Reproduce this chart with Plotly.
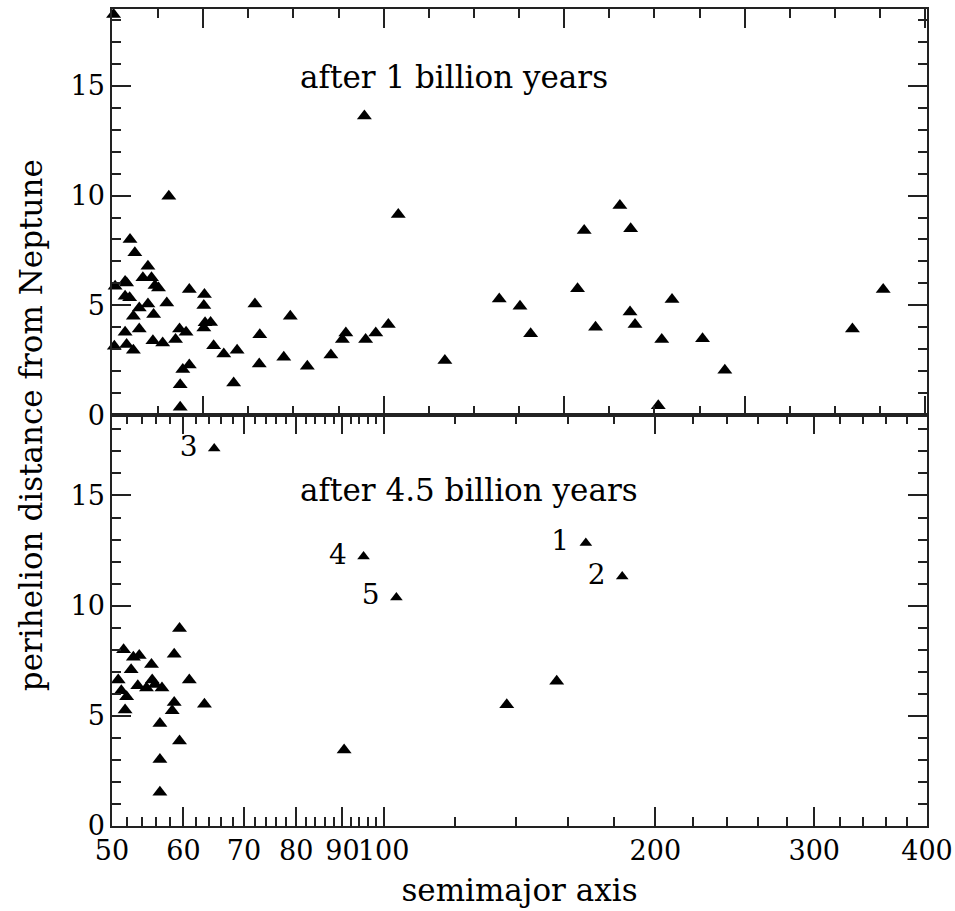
import plotly.graph_objects as go

# ---- data: after 1 billion years (semimajor axis, perihelion distance from Neptune)
a_1gyr = [50.2, 95.2, 57.8, 103.8, 52.35, 53.0, 54.8, 54.1, 55.3, 51.7, 51.9, 50.4,
          55.8, 56.3, 60.9, 51.7, 52.3, 63.3, 57.5, 54.8, 63.2, 72.0, 53.6, 52.8,
          55.6, 78.8, 63.4, 64.3, 63.2, 51.7, 53.6, 59.4, 60.4, 72.9, 90.8, 90.0,
          101.2, 98.0, 95.5, 50.3, 51.9, 52.8, 55.5, 56.9, 58.8, 64.8, 66.5, 68.8,
          77.5, 82.3, 87.4, 72.8, 59.9, 60.9, 59.5, 68.2, 59.5,
          116.9, 134.3, 141.6, 145.5, 164.0, 166.8, 182.7, 187.8, 171.7, 187.5,
          189.9, 208.7, 203.3, 201.5, 225.6, 238.8, 330.7, 357.7]
q_1gyr = [18.25, 13.62, 9.97, 9.14, 8.0, 7.39, 6.78, 6.25, 6.25, 6.08, 6.02, 5.87,
          5.9, 5.79, 5.72, 5.41, 5.34, 5.49, 5.11, 5.06, 4.99, 5.06, 4.88, 4.5,
          4.58, 4.5, 4.2, 4.22, 3.97, 3.77, 3.92, 3.92, 3.77, 3.66, 3.74, 3.44,
          4.12, 3.74, 3.44, 3.13, 3.21, 2.95, 3.39, 3.28, 3.44, 3.16, 2.78, 2.95,
          2.63, 2.22, 2.74, 2.33, 2.07, 2.28, 1.38, 1.46, 0.36,
          2.48, 5.29, 4.96, 3.7, 5.75, 8.41, 9.55, 8.49, 4.0, 4.7,
          4.12, 5.26, 3.44, 0.42, 3.48, 2.04, 3.92, 5.72]

# ---- data: after 4.5 billion years (unlabelled objects)
a_45gyr = [59.4, 51.5, 52.8, 53.6, 58.6, 55.3, 52.5, 50.8, 55.4, 60.9, 53.4, 54.6,
           55.8, 56.8, 51.2, 51.9, 58.6, 63.3, 51.7, 58.3, 56.5, 59.4, 56.5, 56.5,
           90.4, 155.5, 136.9]
q_45gyr = [8.96, 8.0, 7.66, 7.74, 7.79, 7.33, 7.09, 6.63, 6.63, 6.63, 6.36, 6.26,
           6.42, 6.26, 6.14, 5.87, 5.61, 5.53, 5.27, 5.23, 4.65, 3.86, 3.02, 1.53,
           3.45, 6.57, 5.5]

# ---- data: after 4.5 billion years (numbered objects)
lab_names = ["1", "2", "3", "4", "5"]
lab_a = [167.5, 183.8, 64.9, 95.0, 103.3]
lab_q = [12.84, 11.32, 17.13, 12.23, 10.37]

# ---- axis ticks
x_major_lower = [50, 60, 70, 80, 90, 100, 200, 300, 400]
x_minor_lower = [52, 54, 56, 58, 62, 64, 66, 68, 72, 74, 76, 78, 82, 84, 86, 88,
                 92, 94, 96, 98, 120, 140, 160, 180, 220, 240, 260, 280,
                 320, 340, 360, 380]
upper_major_log = [1.8, 2.0, 2.2, 2.4, 2.6]
upper_minor_log = [1.75, 1.85, 1.9, 1.95, 2.05, 2.1, 2.15, 2.25, 2.3, 2.35,
                   2.45, 2.5, 2.55]
y_major = [0, 5, 10, 15]

FONT = "DejaVu Serif"
LINE = "#222222"

fig = go.Figure()
mk = dict(symbol="triangle-up", color="black", size=13, line=dict(width=0))
fig.add_trace(go.Scatter(x=a_1gyr, y=q_1gyr, mode="markers", marker=mk,
                         xaxis="x", yaxis="y", showlegend=False, cliponaxis=False))
fig.add_trace(go.Scatter(x=a_45gyr, y=q_45gyr, mode="markers", marker=mk,
                         xaxis="x2", yaxis="y2", showlegend=False))
fig.add_trace(go.Scatter(x=lab_a, y=lab_q, mode="markers+text",
                         text=[n + " " for n in lab_names],
                         textposition="middle left",
                         textfont=dict(family=FONT, size=28, color="black"),
                         marker=dict(symbol="triangle-up", color="black", size=11),
                         xaxis="x2", yaxis="y2", showlegend=False))

axis_common = dict(showline=True, linecolor=LINE, linewidth=1.5, mirror="ticks",
                   ticks="inside", ticklen=19, tickwidth=1.5, tickcolor=LINE,
                   showgrid=False, zeroline=False, automargin=False)

split = 0.503
fig.update_layout(
    width=955, height=911, autosize=False,
    margin=dict(l=112, r=28, t=9, b=85),
    paper_bgcolor="white", plot_bgcolor="white",
    font=dict(family=FONT, size=26, color="black"),
    xaxis=dict(type="log", range=[1.69897, 2.60206], anchor="y",
               tickmode="array", tickvals=[10 ** v for v in upper_major_log],
               showticklabels=False,
               minor=dict(tickvals=[10 ** v for v in upper_minor_log],
                          ticks="inside", ticklen=9, tickwidth=1.5, tickcolor=LINE),
               **axis_common),
    yaxis=dict(range=[0, 18.5], domain=[split, 1], anchor="x",
               tickmode="array", tickvals=y_major,
               minor=dict(dtick=1, ticks="inside", ticklen=9, tickwidth=1.5, tickcolor=LINE),
               tickfont=dict(size=27), **axis_common),
    xaxis2=dict(type="log", range=[1.69897, 2.60206], anchor="y2",
                tickmode="array", tickvals=x_major_lower,
                ticktext=[str(v) for v in x_major_lower], tickangle=0,
                tickfont=dict(size=27),
                minor=dict(tickvals=x_minor_lower, ticks="inside", ticklen=9,
                           tickwidth=1.5, tickcolor=LINE),
                title=dict(text="semimajor axis", font=dict(size=31), standoff=14),
                **axis_common),
    yaxis2=dict(range=[0, 18.65], domain=[0, split], anchor="x2",
                tickmode="array", tickvals=y_major,
                minor=dict(dtick=1, ticks="inside", ticklen=9, tickwidth=1.5, tickcolor=LINE),
                tickfont=dict(size=27), **axis_common),
    annotations=[
        dict(text="after 1 billion years", xref="paper", yref="y", x=0.228, y=15.4,
             xanchor="left", yanchor="middle", showarrow=False, font=dict(size=31)),
        dict(text="after 4.5 billion years", xref="paper", yref="y2", x=0.228, y=15.27,
             xanchor="left", yanchor="middle", showarrow=False, font=dict(size=31)),
        dict(text="perihelion distance from Neptune", xref="paper", yref="paper",
             x=-0.1, y=0.49, xanchor="center", yanchor="middle", textangle=-90,
             showarrow=False, font=dict(size=31)),
    ],
)

fig.write_html("out.html",
               config={"responsive": False, "displayModeBar": False},
               post_script="document.body.style.margin='0';document.body.style.overflow='hidden';")
